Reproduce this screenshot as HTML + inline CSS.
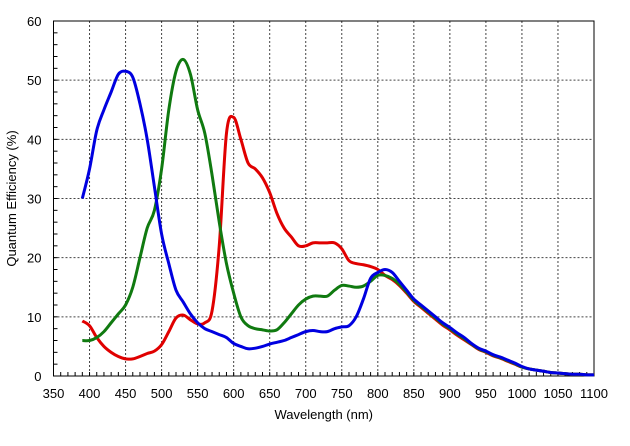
<!DOCTYPE html>
<html><head><meta charset="utf-8"><style>
body{margin:0;background:#fff;width:630px;height:441px;overflow:hidden}
svg text{font-family:"Liberation Sans",Arial,sans-serif;font-size:13px;fill:#000}
</style></head><body>
<svg id="c" width="630" height="441"></svg>
<script>
const wavelengths=[390,400,410,420,430,440,450,460,470,480,490,500,510,520,530,540,550,560,570,580,590,600,610,620,630,640,650,660,670,680,690,700,710,720,730,740,750,760,770,780,790,800,810,820,830,840,850,860,870,880,890,900,910,920,930,940,950,960,970,980,990,1000,1010,1020,1030,1040,1050,1060,1070,1080,1090,1100];
const blueQE=[30,35,41.5,45,48,51,51.5,50.5,46,40,32,24,19,14.5,12.5,10.5,9,8,7.5,7,6.5,5.5,5,4.6,4.7,5,5.4,5.7,6,6.5,7,7.5,7.7,7.5,7.5,8,8.3,8.5,10,13,16.5,17.5,18,17.5,16,14.5,13,12,11,10,9,8.2,7.3,6.5,5.5,4.7,4.2,3.6,3.2,2.7,2.2,1.6,1.2,1,0.8,0.6,0.5,0.4,0.3,0.3,0.2,0.2];
const greenQE=[6,6,6.5,7.5,9,10.5,12,15,20,25,28,35,45,51.5,53.5,51,45,41,34,26,19,14,10,8.5,8,7.8,7.6,7.8,9,10.5,12,13,13.5,13.5,13.5,14.5,15.3,15.2,15,15.2,16,17,17,16.5,15.5,14.2,12.8,11.8,10.8,9.8,8.8,8,7.1,6.3,5.4,4.6,4.1,3.5,3.1,2.6,2.1,1.5,1.2,1,0.8,0.6,0.5,0.4,0.3,0.3,0.2,0.2];
const redQE=[9.3,8.5,6.5,5,4,3.3,2.9,2.9,3.3,3.8,4.2,5.3,7.5,9.8,10.3,9.5,8.8,9,11,22,41,43.7,40,36,35,33.5,31,27.5,25,23.5,22,22,22.5,22.5,22.5,22.5,21.5,19.5,19,18.8,18.5,18,17,16.3,15.3,14,12.6,11.6,10.6,9.6,8.6,7.8,6.9,6.1,5.3,4.5,4,3.4,3,2.5,2,1.5,1.2,1,0.8,0.6,0.5,0.4,0.3,0.3,0.2,0.2];
const xTicks=[350,400,450,500,550,600,650,700,750,800,850,900,950,1000,1050,1100];
const yTicks=[0,10,20,30,40,50,60];
const L=53.5,R=594,T=21,B=376;
const sx=v=>L+(v-350)/750*(R-L), sy=v=>B-v/60*(B-T);
const svg=document.getElementById('c'),NS='http://www.w3.org/2000/svg';
function mk(t,a,p){const e=document.createElementNS(NS,t);for(const k in a)e.setAttribute(k,a[k]);(p||svg).appendChild(e);return e;}
xTicks.forEach(v=>{if(v>350&&v<1100){const g=mk('line',{x1:sx(v),x2:sx(v),y1:T,y2:B,stroke:'#444','stroke-width':1,'stroke-dasharray':'2,2'});

}
const t=mk('text',{x:sx(v),y:B+22,'text-anchor':'middle'});t.textContent=v;

});
yTicks.forEach(v=>{if(v>0&&v<60){const g=mk('line',{x1:L,x2:R,y1:sy(v),y2:sy(v),stroke:'#444','stroke-width':1,'stroke-dasharray':'2,2'});

}
const t=mk('text',{x:L-12,y:sy(v)+5,'text-anchor':'end'});t.textContent=v;

});
for(let v=360;v<1100;v+=10){const m=mk('line',{x1:sx(v),x2:sx(v),y1:B,y2:B-4,stroke:'#000'});

}
for(let v=2;v<60;v+=2){const m=mk('line',{x1:L,x2:L+4,y1:sy(v),y2:sy(v),stroke:'#000'});

}
const fr=mk('rect',{x:L,y:T,width:R-L,height:B-T,fill:'none',stroke:'#000','stroke-width':1});


function path(vals,col,name){const p=wavelengths.map((w,i)=>[sx(w),sy(vals[i])]);
let d='M'+p[0][0]+','+p[0][1];
for(let i=0;i<p.length-1;i++){const p0=p[i-1]||p[i],p1=p[i],p2=p[i+1],p3=p[i+2]||p2;
d+=`C${p1[0]+(p2[0]-p0[0])/6},${p1[1]+(p2[1]-p0[1])/6} ${p2[0]-(p3[0]-p1[0])/6},${p2[1]-(p3[1]-p1[1])/6} ${p2[0]},${p2[1]}`;}
const e=mk('path',{d:d,fill:'none',stroke:col,'stroke-width':3,'stroke-linejoin':'round'});

}
path(redQE,'#e00000','red-channel-line');
path(greenQE,'#107a10','green-channel-line');
path(blueQE,'#0000e0','blue-channel-line');
const xt=mk('text',{x:(L+R)/2,y:419,'text-anchor':'middle'});xt.textContent='Wavelength (nm)';


const yt=mk('text',{x:0,y:0,'text-anchor':'middle',transform:`translate(16,${(T+B)/2}) rotate(-90)`});yt.textContent='Quantum Efficiency (%)';


</script>
</body></html>
